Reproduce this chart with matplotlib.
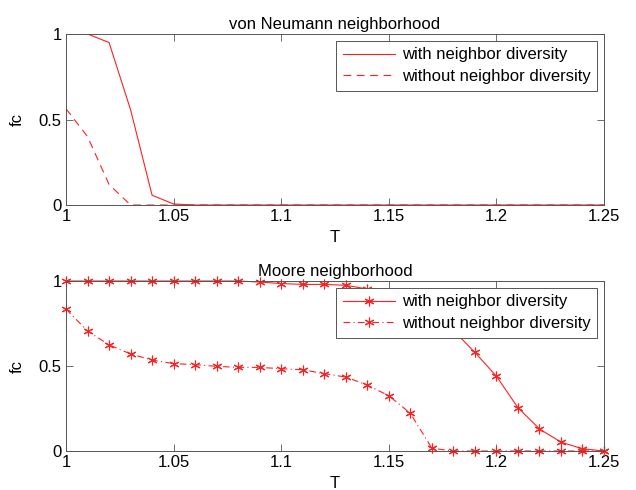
"""
plot.py

Cooperation level fc versus T for two neighbourhood types.
"""

import numpy as np
import matplotlib
matplotlib.use("Agg")
import matplotlib.pyplot as plt

plt.rcParams["font.family"] = ["Liberation Sans", "DejaVu Sans"]
plt.rcParams["font.size"] = 12

# temptation values, 1.00 .. 1.25
T = [1.00, 1.01, 1.02, 1.03, 1.04, 1.05, 1.06, 1.07, 1.08, 1.09, 1.10, 1.11, 1.12,
     1.13, 1.14, 1.15, 1.16, 1.17, 1.18, 1.19, 1.20, 1.21, 1.22, 1.23, 1.24, 1.25]

# von Neumann neighbourhood
vn_with = [1.0, 1.0, 0.95, 0.557, 0.057, 0.006, 0.0, 0.0, 0.0, 0.0, 0.0, 0.0, 0.0,
           0.0, 0.0, 0.0, 0.0, 0.0, 0.0, 0.0, 0.0, 0.0, 0.0, 0.0, 0.0, 0.0]
vn_without = [0.563, 0.40, 0.12, 0.0, 0.0, 0.0, 0.0, 0.0, 0.0, 0.0, 0.0, 0.0, 0.0,
              0.0, 0.0, 0.0, 0.0, 0.0, 0.0, 0.0, 0.0, 0.0, 0.0, 0.0, 0.0, 0.0]

# Moore neighbourhood
moore_with = [1.0, 1.0, 1.0, 1.0, 1.0, 1.0, 1.0, 1.0, 1.0, 0.994, 0.985, 0.98, 0.98,
              0.975, 0.953, 0.93, 0.9, 0.83, 0.71, 0.58, 0.44, 0.255, 0.13, 0.052,
              0.013, 0.0]
moore_without = [0.835, 0.706, 0.624, 0.571, 0.535, 0.514, 0.508, 0.498, 0.492, 0.492,
                 0.484, 0.478, 0.455, 0.435, 0.388, 0.325, 0.222, 0.016, 0.0, 0.0,
                 0.0, 0.0, 0.0, 0.0, 0.0, 0.0]

xticks = [1.0, 1.05, 1.1, 1.15, 1.2, 1.25]
xticklabels = ["1", "1.05", "1.1", "1.15", "1.2", "1.25"]
yticks = [0, 0.5, 1]
yticklabels = ["0", "0.5", "1"]

red = "#ff2020"
star = (6, 2, 0)

fig = plt.figure(figsize=(6.36, 4.90), dpi=100)
ax1 = fig.add_axes([0.1038, 0.5816, 0.8459, 0.3490])
ax2 = fig.add_axes([0.1038, 0.0796, 0.8459, 0.3469])


def style(ax, title):
    ax.set_xlim(1.0, 1.25)
    ax.set_ylim(0, 1)
    ax.set_xticks(xticks)
    ax.set_xticklabels(xticklabels)
    ax.set_yticks(yticks)
    ax.set_yticklabels(yticklabels)
    ax.tick_params(direction="in", length=5, width=0.6, color="#555555",
                   top=True, right=True, labelsize=12, pad=3)
    for s in ax.spines.values():
        s.set_color("#555555")
        s.set_linewidth(0.7)
    ax.set_xlabel("T", labelpad=4)
    ax.set_ylabel("fc", labelpad=10)
    ax.set_title(title, fontsize=12, pad=3.5)


ax1.plot(T, vn_with, color=red, lw=0.8, label="with neighbor diversity")
ax1.plot(T, vn_without, color=red, lw=0.8, linestyle=(0, (7, 5)),
         label="without neighbor diversity")
style(ax1, "von Neumann neighborhood")

ax2.plot(T, moore_with, color=red, lw=0.8, marker=star, ms=7, mew=0.8,
         label="with neighbor diversity", clip_on=False)
ax2.plot(T, moore_without, color=red, lw=0.8, linestyle=(0, (6, 3, 1, 3)),
         marker=star, ms=7, mew=0.8, label="without neighbor diversity", clip_on=False)
style(ax2, "Moore neighborhood")

for ax in (ax1, ax2):
    leg = ax.legend(loc="upper right", handlelength=3.15, fontsize=12,
                    fancybox=False, framealpha=1, borderaxespad=0.4,
                    borderpad=0.4, labelspacing=0.4, handletextpad=0.4)
    leg.get_frame().set_edgecolor("#555555")
    leg.get_frame().set_linewidth(0.7)

fig.savefig("out.png", dpi=100)
